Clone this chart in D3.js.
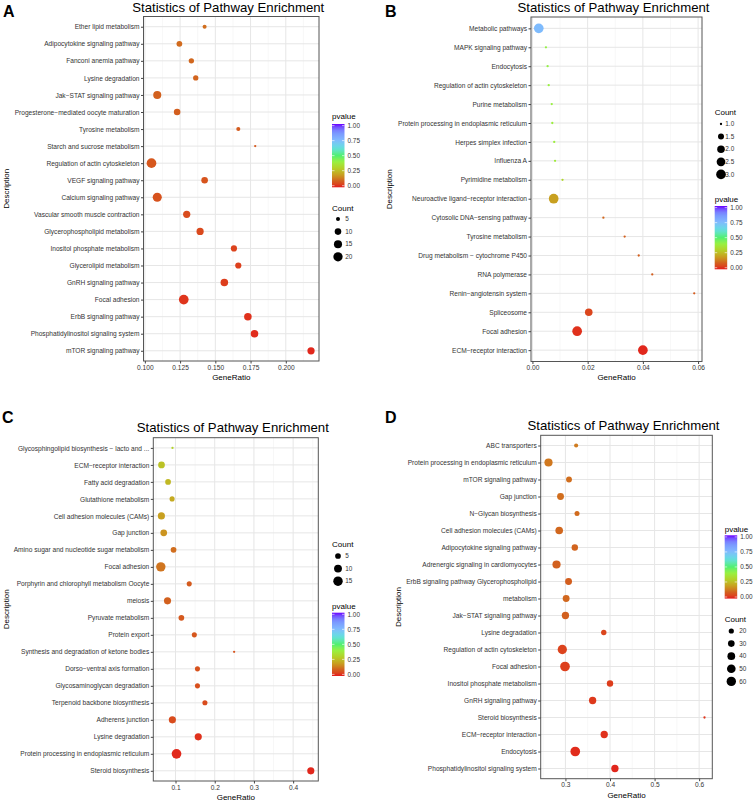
<!DOCTYPE html>
<html><head><meta charset="utf-8">
<script src="https://cdn.jsdelivr.net/npm/d3@7"></script>
<style>
body{margin:0;background:#fff}
svg{display:block}
text{font-family:"Liberation Sans",Arial,Helvetica,sans-serif}
</style>
</head><body>
<svg id="c" width="756" height="802"></svg>
<script>
// ---------------- DATA ----------------
const aTerms = ["Ether lipid metabolism","Adipocytokine signaling pathway","Fanconi anemia pathway","Lysine degradation","Jak\u2212STAT signaling pathway","Progesterone\u2212mediated oocyte maturation","Tyrosine metabolism","Starch and sucrose metabolism","Regulation of actin cytoskeleton","VEGF signaling pathway","Calcium signaling pathway","Vascular smooth muscle contraction","Glycerophospholipid metabolism","Inositol phosphate metabolism","Glycerolipid metabolism","GnRH signaling pathway","Focal adhesion","ErbB signaling pathway","Phosphatidylinositol signaling system","mTOR signaling pathway"];
const aRatio = [0.1424,0.1245,0.1330,0.1361,0.1088,0.1229,0.1663,0.1783,0.1047,0.1424,0.1088,0.1297,0.1392,0.1632,0.1663,0.1564,0.1276,0.1731,0.1778,0.2179];
const aCount = [5,8,7,7,15,10,5,4,22,10,19,12,12,9,9,13,22,13,13,12];
const aPvalue = [0.12,0.115,0.11,0.105,0.10,0.095,0.09,0.085,0.08,0.075,0.07,0.06,0.055,0.045,0.04,0.035,0.025,0.02,0.015,0.01];
const aTicks = [0.100,0.125,0.150,0.175,0.200];
const aCountBreaks = [5,10,15,20];

const bTerms = ["Metabolic pathways","MAPK signaling pathway","Endocytosis","Regulation of actin cytoskeleton","Purine metabolism","Protein processing in endoplasmic reticulum","Herpes simplex infection","Influenza A","Pyrimidine metabolism","Neuroactive ligand\u2212receptor interaction","Cytosolic DNA\u2212sensing pathway","Tyrosine metabolism","Drug metabolism \u2212 cytochrome P450","RNA polymerase","Renin\u2212angiotensin system","Spliceosome","Focal adhesion","ECM\u2212receptor interaction"];
const bRatio = [0.0023,0.0049,0.0055,0.0059,0.0070,0.0072,0.0079,0.0082,0.0109,0.0077,0.0257,0.0334,0.0385,0.0434,0.0586,0.0204,0.0162,0.0400];
const bCount = [3,1,1,1,1,1,1,1,1,3,1,1,1,1,1,2,3,3];
const bPvalue = [0.74,0.41,0.41,0.40,0.40,0.39,0.39,0.38,0.32,0.20,0.11,0.10,0.10,0.095,0.09,0.05,0.02,0.01];
const bTicks = [0.00,0.02,0.04,0.06];
const bCountBreaks = [1.0,1.5,2.0,2.5,3.0];

const cTerms = ["Glycosphingolipid biosynthesis \u2212 lacto and ...","ECM\u2212receptor interaction","Fatty acid degradation","Glutathione metabolism","Cell adhesion molecules (CAMs)","Gap junction","Amino sugar and nucleotide sugar metabolism","Focal adhesion","Porphyrin and chlorophyll metabolism Oocyte","meiosis","Pyruvate metabolism","Protein export","Synthesis and degradation of ketone bodies","Dorso\u2212ventral axis formation","Glycosaminoglycan degradation","Terpenoid backbone biosynthesis","Adherens junction","Lysine degradation","Protein processing in endoplasmic reticulum","Steroid biosynthesis"];
const cRatio = [0.0923,0.0643,0.0810,0.0913,0.0640,0.0700,0.0950,0.0625,0.1350,0.0796,0.1150,0.1480,0.2495,0.1560,0.1560,0.1750,0.0920,0.1580,0.1026,0.4450];
const cCount = [2,7,5,4,8,7,5,15,4,8,5,4,2,4,4,4,8,8,16,8];
const cPvalue = [0.31,0.27,0.25,0.22,0.20,0.18,0.12,0.13,0.09,0.10,0.085,0.08,0.075,0.07,0.065,0.06,0.06,0.02,0.012,0.01];
const cTicks = [0.1,0.2,0.3,0.4];
const cCountBreaks = [5,10,15];

const dTerms = ["ABC transporters","Protein processing in endoplasmic reticulum","mTOR signaling pathway","Gap junction","N\u2212Glycan biosynthesis","Cell adhesion molecules (CAMs)","Adipocytokine signaling pathway","Adrenergic signaling in cardiomyocytes","ErbB signaling pathway Glycerophospholipid","metabolism","Jak\u2212STAT signaling pathway","Lysine degradation","Regulation of actin cytoskeleton","Focal adhesion","Inositol phosphate metabolism","GnRH signaling pathway","Steroid biosynthesis","ECM\u2212receptor interaction","Endocytosis","Phosphatidylinositol signaling system"];
const dRatio = [0.324,0.262,0.308,0.289,0.326,0.286,0.321,0.280,0.307,0.3016,0.300,0.386,0.293,0.299,0.400,0.361,0.612,0.387,0.322,0.411];
const dCount = [15,45,24,32,19,39,28,45,32,32,36,21,58,64,28,36,12,36,64,36];
const dPvalue = [0.14,0.135,0.12,0.12,0.115,0.11,0.105,0.10,0.095,0.11,0.10,0.05,0.045,0.04,0.035,0.03,0.025,0.02,0.015,0.01];
const dTicks = [0.3,0.4,0.5,0.6];
const dCountBreaks = [20,30,40,50,60];

const pvalueBreaks = [0.00,0.25,0.50,0.75,1.00];

// ---------------- STYLE / SCALES ----------------
const svg = d3.select("#c");
const defs = svg.append("defs");
const color = d3.scaleLinear()
  .domain([0,0.10,0.20,0.30,0.40,0.50,0.62,0.75,0.88,1.0])
  .range(["#E31A1C","#D2601E","#C8A020","#B4D028","#98F040","#50F070","#60E0E0","#80B8FF","#7890FF","#6A00FF"])
  .interpolate(d3.interpolateLab).clamp(true);

const grad = defs.append("linearGradient").attr("id","pgrad")
  .attr("x1",0).attr("y1",1).attr("x2",0).attr("y2",0);
d3.range(0,1.0001,0.05).forEach(v=>{
  grad.append("stop").attr("offset",v).attr("stop-color",color(v));
});

const FONT_AXIS = 6.6, FONT_LEG = 6.4, FONT_TITLE = 8;

function drawPanel(cfg, terms, ratio, count, pvalue, ticks, fmt, countBreaks){
  const g = svg.append("g");
  const ext = d3.extent(ratio), pad = (ext[1]-ext[0])*0.05;
  const x = d3.scaleLinear().domain([ext[0]-pad, ext[1]+pad]).range([cfg.x0, cfg.x1]);
  const y = d3.scalePoint().domain(terms).range([cfg.y0, cfg.y1]).padding(0.6);
  const cext = d3.extent(count);
  const sz = d3.scaleSqrt().domain([0, cext[1]-cext[0]]).range([0, 3.7]);
  const r = c => 1.15 + sz(Math.max(0, c - cext[0]));

  g.append("rect").attr("x",cfg.x0).attr("y",cfg.y0).attr("width",cfg.x1-cfg.x0).attr("height",cfg.y1-cfg.y0).attr("fill","#fff");
  const step = ticks[1]-ticks[0];
  const dom = x.domain();
  const minor = [ticks[0]-step/2, ...ticks.map(t=>t+step/2)].filter(v=>v>dom[0] && v<dom[1]);
  g.selectAll(".mn").data(minor).join("line")
    .attr("x1",d=>x(d)).attr("x2",d=>x(d)).attr("y1",cfg.y0).attr("y2",cfg.y1)
    .attr("stroke","#F2F2F2").attr("stroke-width",0.6);
  g.selectAll(".mj").data(ticks).join("line")
    .attr("x1",d=>x(d)).attr("x2",d=>x(d)).attr("y1",cfg.y0).attr("y2",cfg.y1)
    .attr("stroke","#E6E6E6").attr("stroke-width",1);
  g.selectAll(".hz").data(terms).join("line")
    .attr("x1",cfg.x0).attr("x2",cfg.x1).attr("y1",d=>y(d)).attr("y2",d=>y(d))
    .attr("stroke","#E6E6E6").attr("stroke-width",1);

  const pts = terms.map((t,i)=>({t, v:ratio[i], c:count[i], p:pvalue[i]}));
  g.selectAll(".pt").data(pts).join("circle")
    .attr("cx",d=>x(d.v)).attr("cy",d=>y(d.t)).attr("r",d=>r(d.c))
    .attr("fill",d=>color(d.p));

  g.append("rect").attr("x",cfg.x0).attr("y",cfg.y0).attr("width",cfg.x1-cfg.x0).attr("height",cfg.y1-cfg.y0)
    .attr("fill","none").attr("stroke","#555").attr("stroke-width",1);

  const ay = g.append("g").attr("transform",`translate(${cfg.x0},0)`)
    .call(d3.axisLeft(y).tickSize(2.5).tickPadding(1.5));
  const ax = g.append("g").attr("transform",`translate(0,${cfg.y1})`)
    .call(d3.axisBottom(x).tickValues(ticks).tickFormat(d3.format(fmt)).tickSize(2.5).tickPadding(1.5));
  [ay,ax].forEach(a=>{
    a.select(".domain").remove();
    a.attr("font-family",null).attr("font-size",null);
    a.selectAll(".tick line").attr("stroke","#444");
    a.selectAll(".tick text").attr("fill","#333").style("font-size",FONT_AXIS+"px");
  });

  g.append("text").attr("x",(cfg.x0+cfg.x1)/2-3).attr("y",cfg.titleY).attr("dy","0.35em")
    .attr("text-anchor","middle").style("font-size","13.2px").attr("fill","#000")
    .text("Statistics of Pathway Enrichment");
  g.append("text").attr("x",(cfg.x0+cfg.x1)/2).attr("y",cfg.xlabY).attr("dy","0.35em")
    .attr("text-anchor","middle").style("font-size",FONT_TITLE+"px").text("GeneRatio");
  g.append("text").attr("transform",`translate(${cfg.ylabX},${(cfg.y0+cfg.y1)/2}) rotate(-90)`).attr("dy","0.35em")
    .attr("text-anchor","middle").style("font-size",FONT_TITLE+"px").text("Description");
  g.append("text").attr("x",cfg.letterX).attr("y",cfg.letterY)
    .style("font-size","16px").style("font-weight","bold").text(cfg.letter);

  const lc = cfg.countLeg;
  g.append("text").attr("x",cfg.lx).attr("y",lc.titleY).attr("dy","0.35em").style("font-size",FONT_TITLE+"px").text("Count");
  countBreaks.forEach((b,i)=>{
    const yy = lc.keyY + i*12.6;
    g.append("circle").attr("cx",cfg.lx+lc.cx).attr("cy",yy).attr("r",r(b)).attr("fill","#000");
    g.append("text").attr("x",cfg.lx+lc.tx).attr("y",yy).attr("dy","0.35em")
      .style("font-size",FONT_LEG+"px").attr("fill","#333").text(d3.format(cfg.countFmt)(b));
  });

  const lp = cfg.pLeg, bw = 12.5, bh = 63.3;
  g.append("text").attr("x",cfg.lx).attr("y",lp.titleY).attr("dy","0.35em").style("font-size",FONT_TITLE+"px").text("pvalue");
  g.append("rect").attr("x",cfg.lx).attr("y",lp.barY).attr("width",bw).attr("height",bh).attr("fill","url(#pgrad)");
  const py = d3.scaleLinear().domain([0,1]).range([lp.barY+bh-1.6, lp.barY+1.6]);
  pvalueBreaks.forEach(b=>{
    g.append("line").attr("x1",cfg.lx).attr("x2",cfg.lx+2.5).attr("y1",py(b)).attr("y2",py(b)).attr("stroke","#fff").attr("stroke-width",0.6);
    g.append("line").attr("x1",cfg.lx+bw-2.5).attr("x2",cfg.lx+bw).attr("y1",py(b)).attr("y2",py(b)).attr("stroke","#fff").attr("stroke-width",0.6);
    g.append("text").attr("x",cfg.lx+15.5).attr("y",py(b)).attr("dy","0.35em")
      .style("font-size",FONT_LEG+"px").attr("fill","#333").text(d3.format(".2f")(b));
  });
}

drawPanel({letter:"A",letterX:3,letterY:17,x0:143.5,x1:319,y0:16.5,y1:361,titleY:7.5,xlabY:377.3,ylabX:6,
  lx:332,countFmt:"d",countLeg:{titleY:207.7,keyY:219,cx:6,tx:13.3},pLeg:{titleY:116.2,barY:124}},
  aTerms,aRatio,aCount,aPvalue,aTicks,".3f",aCountBreaks);
drawPanel({letter:"B",letterX:385,letterY:17,x0:531,x1:702,y0:17,y1:361.5,titleY:7.5,xlabY:377,ylabX:389.5,
  lx:714.7,countFmt:".1f",countLeg:{titleY:112,keyY:124,cx:6.3,tx:10.6},pLeg:{titleY:199.3,barY:206}},
  bTerms,bRatio,bCount,bPvalue,bTicks,".2f",bCountBreaks);
drawPanel({letter:"C",letterX:2,letterY:423,x0:153.3,x1:318.3,y0:437.7,y1:781,titleY:427.3,xlabY:796.7,ylabX:6,
  lx:332,countFmt:"d",countLeg:{titleY:544,keyY:556,cx:6,tx:13.3},pLeg:{titleY:606.5,barY:612.7}},
  cTerms,cRatio,cCount,cPvalue,cTicks,".1f",cCountBreaks);
drawPanel({letter:"D",letterX:385,letterY:423,x0:540.7,x1:712.3,y0:435.3,y1:778.7,titleY:425,xlabY:794.7,ylabX:398.5,
  lx:724.7,countFmt:"d",countLeg:{titleY:619,keyY:631,cx:6.6,tx:14.6},pLeg:{titleY:528.8,barY:535.3}},
  dTerms,dRatio,dCount,dPvalue,dTicks,".1f",dCountBreaks);
</script>
</body></html>
